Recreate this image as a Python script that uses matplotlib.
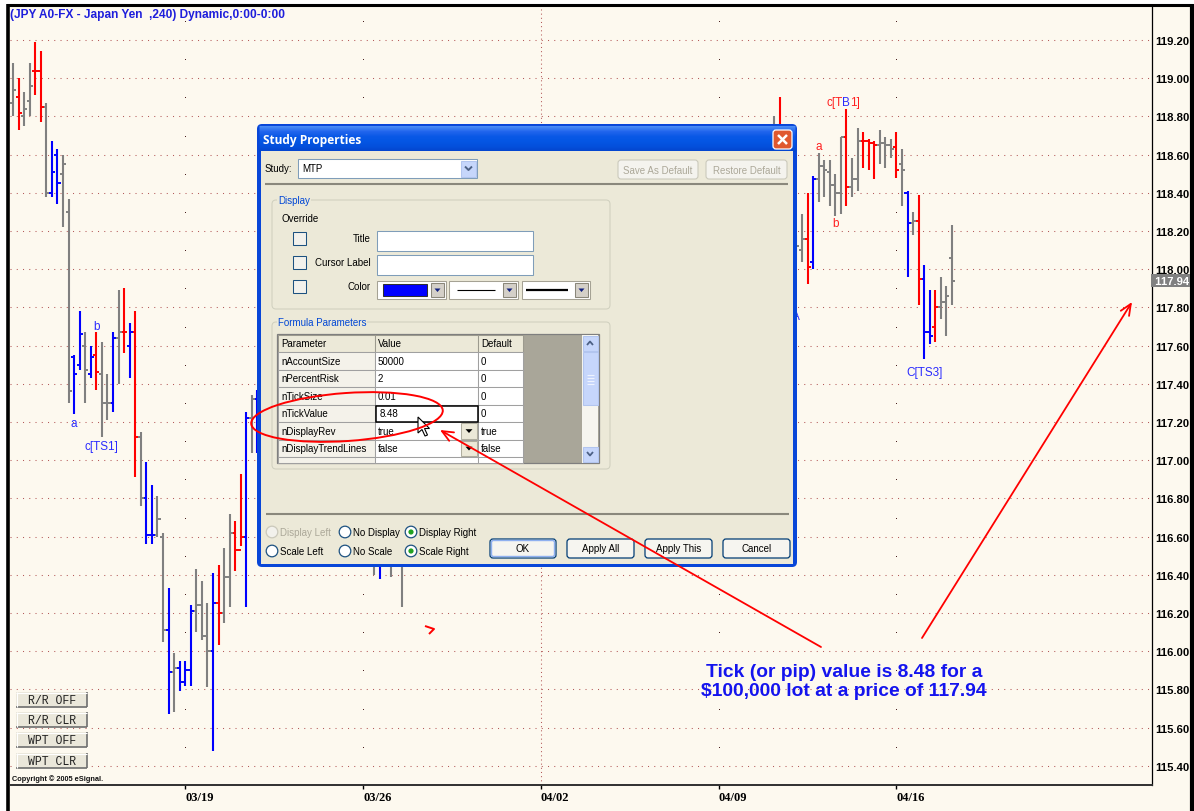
import matplotlib
matplotlib.use("Agg")
import matplotlib.pyplot as plt
from matplotlib.patches import Rectangle, FancyBboxPatch, Ellipse, Circle, Polygon
from matplotlib.colors import LinearSegmentedColormap
import numpy as np

# ---------------- data (4-hour JPY bars) ----------------
bar_idx = list(range(0, 45)) + [65, 66, 67, 68, 70, 71] + [137, 138] + list(range(141, 170))
bar_color = list("GRGGRRGBBGGBBGBRGGBGRBRGBBGGBGBBBGGGBRGGRRBGB") + list("GBRGGB") + list("GR") + \
    list("GGRBGGGGGRGGRRRGGGRGBGRBBRGGG")
bar_high = [119.08, 119.00, 118.93, 119.08, 119.19, 119.14, 118.87, 118.67, 118.63, 118.60,
            118.37, 117.55, 117.78, 117.67, 117.60, 117.67, 117.62, 117.45, 117.67, 117.89,
            117.90, 117.72, 117.78, 117.15, 116.99, 116.87, 116.81, 116.62, 116.33, 115.99,
            115.95, 115.95, 116.24, 116.43, 116.37, 116.25, 116.41, 116.45, 116.54, 116.72,
            116.68, 116.93, 117.25, 117.34, 117.37,
            116.66, 116.70, 116.72, 116.64, 116.62, 116.60,
            118.80, 118.90,
            118.18, 118.29, 118.40, 118.49, 118.61, 118.57, 118.57, 118.50, 118.69, 118.84,
            118.58, 118.74, 118.72, 118.68, 118.67, 118.73, 118.69, 118.68, 118.72, 118.63,
            118.41, 118.30, 118.39, 118.02, 117.89, 117.89, 117.96, 117.91, 118.23]
bar_low = [118.80, 118.73, 118.75, 118.80, 118.91, 118.77, 118.38, 118.38, 118.34, 118.22,
           117.30, 117.24, 117.47, 117.30, 117.43, 117.37, 117.12, 117.21, 117.25, 117.40,
           117.56, 117.43, 116.91, 116.76, 116.56, 116.56, 116.60, 116.05, 115.67, 115.68,
           115.79, 115.82, 115.82, 116.10, 116.06, 115.81, 115.48, 116.03, 116.15, 116.23,
           116.42, 116.55, 116.23, 117.04, 117.04,
           116.40, 116.38, 116.44, 116.39, 116.23, 116.45,
           118.45, 118.45,
           118.05, 118.04, 117.92, 118.00, 118.35, 118.38, 118.33, 118.28, 118.29, 118.33,
           118.38, 118.41, 118.53, 118.52, 118.47, 118.55, 118.53, 118.58, 118.48, 118.33,
           117.96, 118.18, 117.81, 117.53, 117.61, 117.62, 117.74, 117.65, 117.81]
bar_open = [118.87, 118.90, 118.80, 118.88, 119.04, 119.04, 118.85, 118.40, 118.60, 118.50,
            118.30, 117.54, 117.50, 117.60, 117.45, 117.55, 117.45, 117.30, 117.30, 117.64,
            117.67, 117.60, 117.67, 117.12, 116.80, 116.61, 116.61, 116.60, 116.11, 115.89,
            115.91, 115.84, 115.90, 116.21, 116.24, 116.08, 116.00, 116.25, 116.20, 116.39,
            116.62, 116.53, 116.60, 117.22, 117.32,
            116.55, 116.50, 116.60, 116.52, 116.58, 116.52,
            118.60, 118.55,
            118.15, 118.10, 118.16, 118.04, 118.47, 118.54, 118.51, 118.44, 118.40, 118.69,
            118.43, 118.47, 118.67, 118.67, 118.66, 118.65, 118.66, 118.65, 118.64, 118.55,
            118.40, 118.24, 118.25, 117.95, 117.67, 117.70, 117.80, 117.83, 118.06]
bar_close = [118.94, 118.82, 118.84, 118.96, 119.04, 118.85, 118.40, 118.51, 118.45, 118.55,
             117.36, 117.45, 117.66, 117.47, 117.54, 117.46, 117.30, 117.30, 117.64, 117.67,
             117.67, 117.67, 117.12, 116.80, 116.61, 116.61, 116.69, 116.11, 115.89, 115.91,
             115.84, 115.90, 116.21, 116.24, 116.08, 116.00, 116.25, 116.20, 116.39, 116.62,
             116.53, 116.60, 117.22, 117.32, 117.33,
             116.50, 116.60, 116.52, 116.58, 116.50, 116.55,
             118.55, 118.70,
             118.12, 118.16, 118.01, 118.47, 118.54, 118.52, 118.44, 118.40, 118.69, 118.43,
             118.47, 118.67, 118.67, 118.66, 118.65, 118.66, 118.65, 118.63, 118.52, 118.52,
             118.24, 118.25, 117.95, 117.67, 117.65, 117.80, 117.83, 117.86, 117.94]

date_idx = [31, 63, 95, 127, 159]
date_labels = ["03/19", "03/26", "04/02", "04/09", "04/16"]
price_ticks = [round(115.4 + 0.2 * k, 2) for k in range(20)]

label_text = ["a", "b", "c[TS1]", "a", "b", "c[TB1]", "A", "C[TS3]"]
label_idx = [11, 15, 16, 145, 148, 150, 141, 164]
label_price = [117.195, 117.70, 117.075, 118.645, 118.24, 118.875, 117.755, 117.46]
label_color = ["B", "B", "B", "R", "R", "R", "B", "B"]

table_params = ["nAccountSize", "nPercentRisk", "nTickSize", "nTickValue", "nDisplayRev", "nDisplayTrendLines"]
table_values = ["50000", "2", "0.01", "8.48", "true", "false"]
table_defaults = ["0", "0", "0", "0", "true", "false"]
side_buttons = ["R/R OFF", "R/R CLR", "WPT OFF", "WPT CLR"]

# ---------------- figure ----------------
W, H = 1194, 812
CREAM = "#FDF9EF"
fig = plt.figure(figsize=(W / 100, H / 100), dpi=100, facecolor="white")

bg = fig.add_axes([0, 0, 1, 1])
bg.set_zorder(0)
bg.set_xlim(0, W); bg.set_ylim(H, 0); bg.axis("off")
bg.add_patch(Rectangle((8, 5), 1184, 810, facecolor=CREAM, edgecolor="none"))
bg.plot([8, 8], [5, H], color="black", lw=2.6, solid_capstyle="butt")
bg.plot([7, 1193], [5.5, 5.5], color="black", lw=2.2, solid_capstyle="butt")
bg.plot([1192, 1192], [5, H], color="black", lw=3, solid_capstyle="butt")

X0, DX = 13.0, 5.556
ax = fig.add_axes([10 / W, (H - 786) / H, (1152 - 10) / W, (786 - 7) / H])
ax.set_zorder(1)
ax.set_facecolor("none")
ax.set_xlim((10 - X0) / DX, (1152 - X0) / DX)
ax.set_ylim(119.2 - 745 / 191, 119.2 + 34 / 191)

GRIDC = "#B45A5A"
for p in price_ticks:
    ax.axhline(p, color=GRIDC, lw=0.75, ls=(0, (1, 5)), zorder=1)
mids = [round(115.3 + 0.2 * k, 2) for k in range(21)]
for d in date_idx:
    if d == 95:
        ax.axvline(d, color=GRIDC, lw=0.75, ls=(0, (1, 3)), zorder=1)
    else:
        ax.plot([d] * len(mids), mids, ls="none", marker="s", ms=0.7, mew=0, color="#4a2020", zorder=1)

cmap = {"R": "#FF0000", "B": "#0000FF", "G": "#808080"}
cols = [cmap[c] for c in bar_color]
bi = np.array(bar_idx, dtype=float)
ax.vlines(bi, bar_low, bar_high, colors=cols, lw=1.5, zorder=3)
ax.hlines(bar_open, bi - 0.55, bi, colors=cols, lw=1.4, zorder=3)
ax.hlines(bar_close, bi, bi + 0.55, colors=cols, lw=1.4, zorder=3)

lcol = {"B": "#2B2BFF", "R": "#FF2020"}
LFONT = dict(fontsize=8.5, family="Liberation Sans", va="center", zorder=4)
for t, i, p, c in zip(label_text, label_idx, label_price, label_color):
    if t == "c[TB1]":
        # red label whose middle letter is painted over in blue on the chart
        ax.annotate("c[T", (i, p), xytext=(-2.9, 0), textcoords="offset points", ha="right",
                    color=lcol[c], **LFONT)
        ax.annotate("B", (i, p), xytext=(0, 0), textcoords="offset points", ha="center",
                    color=lcol["B"], **LFONT)
        ax.annotate("1]", (i, p), xytext=(2.9, 0), textcoords="offset points", ha="left",
                    color=lcol[c], **LFONT)
    else:
        ax.text(i, p, t, color=lcol[c], ha="center", **LFONT)

for s in ["left", "top"]:
    ax.spines[s].set_visible(False)
ax.spines["right"].set_color("black"); ax.spines["right"].set_linewidth(0.9)
ax.spines["bottom"].set_color("#303030"); ax.spines["bottom"].set_linewidth(1.4)
ax.yaxis.tick_right()
ax.set_yticks(price_ticks)
ax.set_yticklabels([f"{v:.2f}" for v in price_ticks], family="Liberation Sans", fontweight="bold", fontsize=8.1)
ax.tick_params(axis="y", length=0, pad=2.5)
ax.set_xticks(date_idx)
ax.set_xticklabels(date_labels, family="Liberation Serif", fontweight="bold", fontsize=9, ha="left")
ax.tick_params(axis="x", length=3, width=1, pad=1.2, color="black")

ax.text(1.0, bar_close[-1], f" {bar_close[-1]:.2f}", transform=ax.get_yaxis_transform(), ha="left", va="center",
        color="white", fontweight="bold", family="Liberation Sans", fontsize=8.1, zorder=6, clip_on=False,
        bbox=dict(boxstyle="square,pad=0.12", fc="#808080", ec="none"))

# ---------------- overlay ----------------
ov = fig.add_axes([0, 0, 1, 1])
ov.set_zorder(5)
ov.set_xlim(0, W); ov.set_ylim(H, 0); ov.axis("off")
ov.patch.set_alpha(0)

BODY = "#ECE9D8"


def R(x0, y0, x1, y1, fc="none", ec="none", lw=0.75, z=2):
    ov.add_patch(Rectangle((x0, y0), x1 - x0, y1 - y0, facecolor=fc, edgecolor=ec, linewidth=lw, zorder=z))


def RB(x0, y0, x1, y1, fc="none", ec="none", lw=0.75, r=3, z=2):
    ov.add_patch(FancyBboxPatch((x0, y0), x1 - x0, y1 - y0, boxstyle=f"round,pad=0,rounding_size={r}",
                                facecolor=fc, edgecolor=ec, linewidth=lw, zorder=z))


def T(x, y, s, size=7, color="black", ha="left", weight="normal", family="Liberation Sans", z=4, bbox=None):
    ov.text(x, y, s, fontsize=size, color=color, ha=ha, va="center", fontweight=weight, family=family,
            zorder=z, bbox=bbox)


def L(xs, ys, color="black", lw=0.75, z=3):
    ov.plot(xs, ys, color=color, lw=lw, zorder=z, solid_capstyle="butt")


T(10, 15, "(JPY A0-FX - Japan Yen  ,240) Dynamic,0:00-0:00", size=8.6, weight="bold", color="#1E1EDC")

# dialog frame
FRAME = "#0846D8"
RB(257, 125, 797, 568, fc=FRAME, r=5, z=1)
grad = LinearSegmentedColormap.from_list("xp", ["#4A8CF6", "#2266EE", "#0A58E6", "#0456E4", "#0350DC", "#0345CE"])
for k, y in enumerate(np.arange(126.5, 152.5, 1.0)):
    L([259, 795], [y, y], color=grad(k / 25), lw=0.8, z=1.5)
R(261, 152, 793, 565, fc=BODY, z=2)
T(263, 140.5, "Study Properties", size=8.6, color="white", weight="bold", family="Open Sans")
RB(773, 131, 792, 150, fc="#E0582F", ec="white", lw=0.9, r=3, z=3)
L([778, 787], [136, 145], color="white", lw=1.8, z=4)
L([778, 787], [145, 136], color="white", lw=1.8, z=4)

# study combo
T(265, 169, "Study:")
R(298, 160, 477, 179, fc="white", ec="#7F9DB9")
R(461, 161.5, 476, 177.5, fc="#C6D6FB", ec="#B2C5EF", z=3)
L([465, 468.5, 472], [167.5, 171, 167.5], color="#4D6185", lw=1.4, z=4)
T(302, 169.5, "MTP")
for (x0, x1, lab) in [(618, 698, "Save As Default"), (706, 787, "Restore Default")]:
    RB(x0, 161, x1, 180, fc="#F4F3EE", ec="#C9C7BA", r=3)
    T((x0 + x1) / 2, 170.5, lab, ha="center", color="#ACA899")
L([265, 788], [184.5, 184.5], color="#8A887C", lw=1.5)

# display group
RB(272, 201, 610, 310, ec="#D0D0BF", r=4)
T(278, 201, "Display", color="#0046D5", bbox=dict(fc=BODY, ec="none", pad=0.6))
T(282, 219.5, "Override")
for y0 in (233, 257, 281):
    R(293, y0, 306, y0 + 13, fc="#F2F1EC", ec="#1C5180")
T(371, 239, "Title", ha="right")
T(371, 263, "Cursor Label", ha="right")
T(371, 287, "Color", ha="right")
R(377, 232, 533, 252, fc="white", ec="#7F9DB9")
R(377, 256, 533, 276, fc="white", ec="#7F9DB9")
for (x0, x1) in [(377, 446), (449, 518), (522, 590)]:
    R(x0, 282, x1, 300, fc="white", ec="#A5A294")
    R(x1 - 15, 284, x1 - 2, 298, fc="#D4D0C8", ec="#8A877A", z=3)
    ov.add_patch(Polygon([(x1 - 11.5, 289.5), (x1 - 5.5, 289.5), (x1 - 8.5, 293)], closed=True,
                         fc="#102080", ec="none", zorder=4))
R(383, 285, 427, 296.5, fc="#0000FF", ec="#303030", z=3)
L([457, 495], [291, 291], lw=0.8)
L([526, 568], [291, 291], lw=1.6)

# formula parameters group
RB(272, 323, 610, 470, ec="#D0D0BF", r=4)
T(278, 323, "Formula Parameters", color="#0046D5", bbox=dict(fc=BODY, ec="none", pad=0.6))
cx = [278, 375, 478, 523]
ry = [336, 353, 371, 388, 406, 423, 441, 458, 463.5]
R(277, 335, 599, 464, fc="#A9A699", ec="#7F7F7F", lw=0.9)
for k in range(len(ry) - 1):
    y0, y1 = ry[k], ry[k + 1]
    if k == 0:
        for j in range(3):
            R(cx[j], y0, cx[j + 1], y1, fc=BODY, ec="#9C9A8E", z=3)
    else:
        R(cx[0], y0, cx[1], y1, fc="#F4F2EA", ec="#A0A0A0", z=3)
        R(cx[1], y0, cx[2], y1, fc="white", ec="#A0A0A0", z=3)
        R(cx[2], y0, cx[3], y1, fc="white", ec="#A0A0A0", z=3)
T(281, 344.5, "Parameter")
T(378, 344.5, "Value")
T(481, 344.5, "Default")
for k, (pn, vv, dv) in enumerate(zip(table_params, table_values, table_defaults)):
    yc = (ry[k + 1] + ry[k + 2]) / 2
    T(281, yc, pn)
    T(378 if pn != "nTickValue" else 380, yc, vv)
    T(481, yc, dv)
    if vv in ("true", "false"):
        R(461, ry[k + 1] + 1, 477, ry[k + 2] - 1, fc=BODY, ec="#B0AE9F", z=5)
        yb = yc
        ov.add_patch(Polygon([(465.5, yb - 1.8), (472.5, yb - 1.8), (469, yb + 2)], closed=True,
                             fc="black", ec="none", zorder=6))
R(375.5, 406.5, 477.5, 423, fc="none", ec="black", lw=1.1, z=6)
# scrollbar
R(582, 336, 598, 463.5, fc="#F6F5EF", ec="none", z=3)
R(582.5, 336.5, 597.5, 352, fc="#C6D6FB", ec="#B2C5EF", z=4)
R(582.5, 353, 597.5, 406, fc="#C6D6FB", ec="#B2C5EF", z=4)
R(582.5, 447.5, 597.5, 463, fc="#C6D6FB", ec="#B2C5EF", z=4)
L([587, 590, 593], [346, 342.5, 346], color="#4D6185", lw=1.3, z=5)
L([587, 590, 593], [453, 456.5, 453], color="#4D6185", lw=1.3, z=5)
for yy in (376, 379, 382, 385):
    L([586.5, 593.5], [yy, yy], color="#EEF3FE", lw=0.8, z=5)

L([266, 789], [514.5, 514.5], color="#8A887C", lw=1.5)

# radio buttons
radios = [(272, 533, "Display Left", False, True), (345, 533, "No Display", False, False),
          (411, 533, "Display Right", True, False), (272, 552, "Scale Left", False, False),
          (345, 552, "No Scale", False, False), (411, 552, "Scale Right", True, False)]
for x, y, lab, on, dis in radios:
    ov.add_patch(Circle((x, y), 5.8, fc="white" if not dis else "#F2F1EC",
                        ec="#1C5180" if not dis else "#CAC8BB", lw=0.9, zorder=4))
    if on:
        ov.add_patch(Circle((x, y), 2.6, fc="#21A121", ec="none", zorder=5))
    T(x + 8, y, lab, color="#ACA899" if dis else "black")

for (x0, x1, lab, dflt) in [(490, 556, "OK", True), (567, 634, "Apply All", False),
                            (645, 712, "Apply This", False), (723, 790, "Cancel", False)]:
    RB(x0, 540, x1, 559, fc="#F6F5F0", ec="#003C74", lw=0.9, r=3)
    if dflt:
        RB(x0 + 1.5, 541.5, x1 - 1.5, 557.5, fc="none", ec="#8FB0F0", lw=1.0, r=2, z=3)
    T((x0 + x1) / 2, 549.5, lab, ha="center")

# mouse cursor
tip = np.array([418.0, 418.0])
cur = np.array([(0, 0), (0, 16), (4, 12.5), (7, 19), (9.5, 18), (6.5, 11.5), (11.5, 11.5)]) + tip
ov.add_patch(Polygon(cur, closed=True, fc="white", ec="black", lw=0.8, zorder=10))

# left-bottom buttons
for k, lab in enumerate(side_buttons):
    y0 = [693, 713, 733, 754][k]
    R(16, y0, 87, y0 + 15, fc="#EAE7DA", ec="none", z=3)
    L([16, 87], [y0 + 15, y0 + 15], color="#6E6E6E", lw=1.2, z=4)
    L([87, 87], [y0, y0 + 15], color="#6E6E6E", lw=1.2, z=4)
    L([16, 87], [y0 + 0.5, y0 + 0.5], color="white", lw=0.8, z=4)
    L([16.5, 16.5], [y0, y0 + 15], color="white", lw=0.8, z=4)
    T(52, y0 + 8, lab, ha="center", family="Liberation Mono", size=8.3, color="#222222")
T(12, 779, "Copyright \u00a9 2005 eSignal.", size=5.3, weight="bold", color="#111111")

# annotations
ov.add_patch(Ellipse((347, 418), 192, 48, angle=-4, fill=False, ec="#FF0000", lw=1.4, zorder=20))
ov.annotate("", xy=(440, 431), xytext=(821, 648),
            arrowprops=dict(arrowstyle="->,head_length=0.8,head_width=0.35", color="#FF0000", lw=1.3,
                            shrinkA=0, shrinkB=0), zorder=21)
ov.annotate("", xy=(1132, 303), xytext=(922, 639),
            arrowprops=dict(arrowstyle="->,head_length=0.8,head_width=0.35", color="#FF0000", lw=1.3,
                            shrinkA=0, shrinkB=0), zorder=21)
L([425, 434, 429], [627, 630, 635], color="#FF0000", lw=1.4, z=21)
T(844, 673, "Tick (or pip) value is 8.48 for a", size=13.9, weight="bold", color="#1414EE", ha="center")
T(844, 692, "$100,000 lot at a price of 117.94", size=13.9, weight="bold", color="#1414EE", ha="center")

fig.savefig("out.png", dpi=100, facecolor="white")
